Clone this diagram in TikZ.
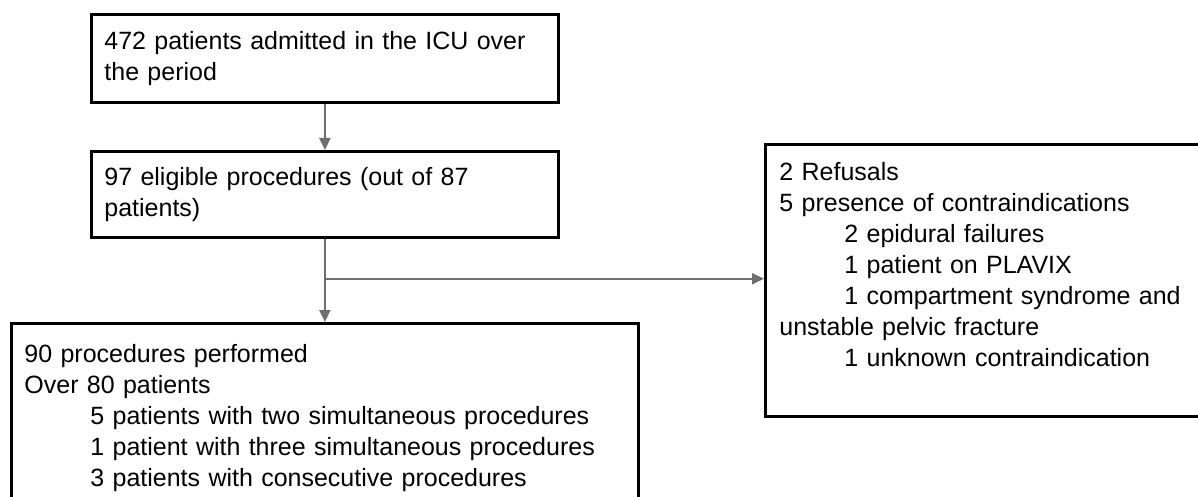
\documentclass[tikz,border=0pt]{standalone}
\usepackage{fontspec}
\setmainfont{Liberation Sans}
\usepackage{xcolor}
\usetikzlibrary{calc,arrows.meta}
\definecolor{arrowgray}{RGB}{110,110,110}

\begin{document}
\begin{tikzpicture}[x=0.5pt, y=-0.5pt,
        box/.style={draw, line width=1.4pt, anchor=north west, align=left,
            inner xsep=6.5pt, font=\fontsize{12.5}{15.5}\selectfont},
        flow/.style={draw=arrowgray, line width=1pt, -{Triangle[length=6pt,width=5.5pt]}}]
    \useasboundingbox (0,0) rectangle (1198,497);
    \clip (0,0) rectangle (1198,497);
    % main column
    \node[box, text width=220.5pt, minimum height=44pt] (admitted) at (90,13)
        {472 patients admitted in the ICU over\\the period};
    \node[box, text width=220.5pt, minimum height=43pt] (eligible) at (90,150)
        {97 eligible procedures (out of 87\\patients)};
    \node[box, text width=300.5pt, inner ysep=10.5pt] (performed) at (10,322)
        {90 procedures performed\\
         Over 80 patients\\
         \hspace*{33pt}5 patients with two simultaneous procedures\\
         \hspace*{33pt}1 patient with three simultaneous procedures\\
         \hspace*{33pt}3 patients with consecutive procedures};
    % excluded
    \node[box, text width=236pt, inner xsep=7pt, inner ysep=9pt] (excluded) at (764,143)
        {2 Refusals\\
         5 presence of contraindications\\
         \hspace*{32.5pt}2 epidural failures\\
         \hspace*{32.5pt}1 patient on PLAVIX\\
         \hspace*{32.5pt}1 compartment syndrome and\\
         unstable pelvic fracture\\
         \hspace*{32.5pt}1 unknown contraindication\rule[-16pt]{0pt}{0pt}};
    \draw[flow] (admitted) -- (eligible);
    \draw[flow] (eligible.south) -- (eligible.south |- performed.north);
    \coordinate (split) at ($(eligible.south)!0.48!(eligible.south |- performed.north)$);
    \draw[flow] (split) -- (split -| excluded.west);
\end{tikzpicture}
\end{document}
